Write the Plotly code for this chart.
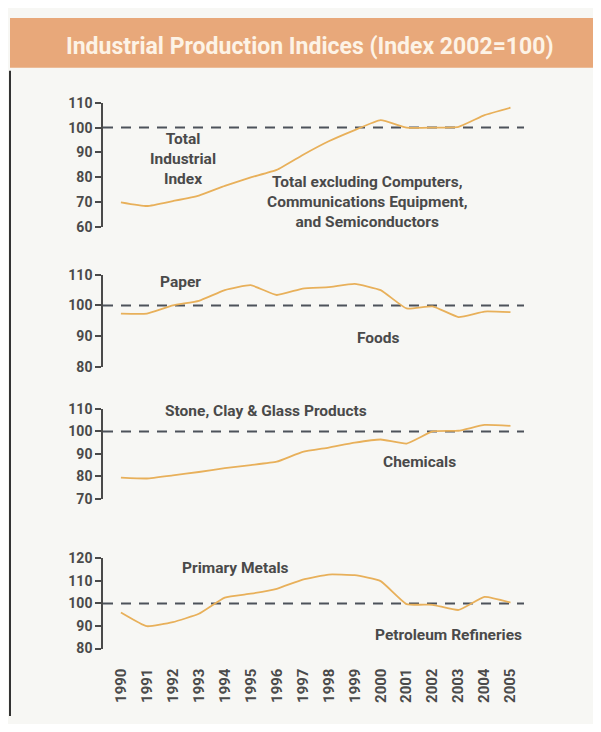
import plotly.graph_objects as go
from plotly.subplots import make_subplots

# years on the shared x axis
years = list(range(1990, 2006))
year_labels = [str(y) for y in years]

# one visible series per panel
total_industrial = [70, 68.5, 70.5, 72.7, 76.6, 80, 83, 89, 94.5, 99, 103, 100, 100, 100.3, 105, 108]
paper_foods = [97.3, 97.3, 100, 101.5, 105, 106.6, 103.4, 105.5, 106, 107, 105, 99, 99.7, 96.2, 98, 97.8]
stone_chemicals = [79.4, 79, 80.4, 81.9, 83.6, 85, 86.5, 90.9, 92.8, 95, 96.4, 94.6, 100, 100.3, 102.9, 102.5]
metals_petroleum = [96, 89.9, 91.7, 95.4, 102.6, 104.3, 106.5, 110.6, 112.8, 112.5, 109.9, 99.7, 99.4, 97.1, 102.9, 100.4]

series = [total_industrial, paper_foods, stone_chemicals, metals_petroleum]
y_ranges = [[60, 110], [80, 110], [70, 110], [80, 120]]
y_ticks = [[60, 70, 80, 90, 100, 110], [80, 90, 100, 110], [70, 80, 90, 100, 110], [80, 90, 100, 110, 120]]

# panel labels: (text, x in years, y in index units)
labels = [
    [("Total<br>Industrial<br>Index", 1992.4, 87.3),
     ("Total excluding Computers,<br>Communications Equipment,<br>and Semiconductors", 1999.5, 70.0)],
    [("Paper", 1992.3, 107.7), ("Foods", 1999.9, 89.5)],
    [("Stone, Clay & Glass Products", 1995.6, 109.3), ("Chemicals", 2001.5, 86.2)],
    [("Primary Metals", 1994.4, 115.7), ("Petroleum Refineries", 2002.6, 85.8)],
]

# page has an 8px body margin, so the figure is 16px smaller than the window
OFF = 8
W, H = 601 - 2 * OFF, 732 - 2 * OFF
BG = "#f7f7f4"
INK = "#4a4a4a"
LINE = "#e8b05a"
FONT = "Roboto"


def px(x):
    return (x - OFF) / W


def py(y):
    return 1 - (y - OFF) / H


# vertical pixel extents of each panel (top, bottom) in window pixels
panel_px = [(96.7, 224), (272.7, 366.7), (410, 501.7), (562.7, 655)]

fig = make_subplots(rows=4, cols=1)

for i, vals in enumerate(series):
    r = i + 1
    fig.add_trace(go.Scatter(x=years, y=vals, mode="lines", line=dict(color=LINE, width=1.8, shape="spline", smoothing=0.4),
                             showlegend=False, hoverinfo="skip"), row=r, col=1)
    fig.add_hline(y=100, row=r, col=1, line=dict(color="#4d525a", width=2, dash="10px,8px"), layer="below")
    top, bot = panel_px[i]
    fig.update_yaxes(row=r, col=1, range=y_ranges[i], tickvals=y_ticks[i], domain=[py(bot), py(top)],
                     showline=True, linecolor=INK, linewidth=1.5, ticks="outside", ticklen=6, tickwidth=1.5,
                     tickcolor=INK, showgrid=False, zeroline=False,
                     tickfont=dict(family=FONT, size=14, color=INK, weight="bold"))
    fig.update_xaxes(row=r, col=1, range=[1989.31, 2005.52], domain=[px(103), px(524)], showgrid=False,
                     zeroline=False, showline=False, showticklabels=(r == 4), tickvals=years, ticktext=year_labels,
                     tickangle=-90, ticks="", ticklabelstandoff=16,
                     tickfont=dict(family=FONT, size=15, color=INK, weight="bold"))
    for text, lx, ly in labels[i]:
        fig.add_annotation(x=lx, y=ly, xref=f"x{r if r > 1 else ''}", yref=f"y{r if r > 1 else ''}", text=text,
                           showarrow=False, align="center",
                           font=dict(family=FONT, size=15.5, color=INK, weight="bold"), yanchor="middle")

# orange title banner
fig.add_shape(type="rect", xref="paper", yref="paper", x0=px(10), x1=px(597), y0=py(61), y1=py(10),
              fillcolor="#e8a87a", line=dict(width=0), layer="below")
fig.add_annotation(xref="paper", yref="paper", x=px(310), y=py(39), text="Industrial Production Indices (Index 2002=100)",
                   showarrow=False, font=dict(family=FONT, size=23, color="#fdf3e6", weight="bold"), yanchor="middle")
# frame line on the left
fig.add_shape(type="line", xref="paper", yref="paper", x0=px(10), x1=px(10), y0=0, y1=py(64),
              line=dict(color="#333333", width=2))

fig.update_layout(width=W, height=H, margin=dict(l=0, r=0, t=0, b=0), paper_bgcolor=BG, plot_bgcolor=BG)

fig.write_html("out.html")
